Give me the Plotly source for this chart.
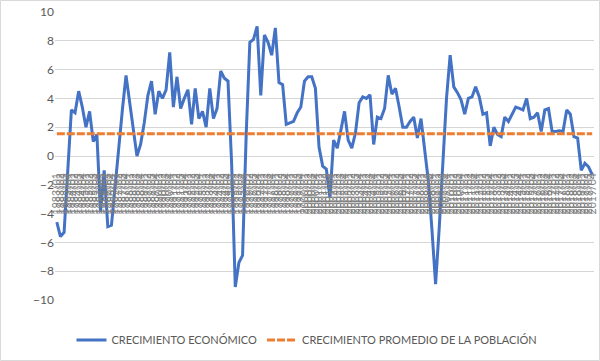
import plotly.graph_objects as go

years = list(range(1983, 2020))
quarters = ["01", "02", "03", "04"]
periods = [f"{y}/{q}" for y in years for q in quarters]

crecimiento_economico = [
    -4.6, -5.6, -5.3, -1.0, 3.2, 3.0, 4.5, 3.4, 2.0, 3.1,
    1.0, 1.5, -3.9, -1.0, -4.9, -4.8, -2.0, 0.8, 3.2, 5.6,
    3.6, 1.6, 0.0, 0.8, 2.3, 4.2, 5.2, 2.9, 4.5, 4.0,
    4.6, 7.2, 3.4, 5.5, 3.3, 4.0, 4.6, 2.2, 4.7, 2.6,
    3.1, 2.0, 4.7, 2.6, 3.3, 5.9, 5.4, 5.2, -0.5, -9.1,
    -7.4, -6.9, 1.5, 7.9, 8.1, 9.0, 4.2, 8.4, 7.9, 7.0,
    8.9, 5.1, 4.95, 2.2, 2.3, 2.4, 3.0, 3.4, 5.2, 5.5,
    5.5, 4.7, 0.6, -0.7, -0.9, -2.9, 1.1, 0.55, 1.8, 3.1,
    1.1, 0.55, 1.6, 3.7, 4.1, 4.0, 4.25, 0.8, 2.7, 2.6,
    3.3, 5.6, 4.3, 4.7, 3.4, 2.0, 2.0, 2.4, 2.7, 1.25,
    2.6, 0.6, -1.7, -5.1, -8.9, -5.0, -0.8, 4.0, 7.0, 4.8,
    4.4, 3.9, 2.9, 4.0, 4.1, 4.8, 4.1, 2.9, 3.0, 0.7,
    2.0, 1.5, 1.35, 2.7, 2.4, 2.9, 3.4, 3.3, 3.2, 4.0,
    2.6, 2.7, 3.0, 1.7, 3.2, 3.3, 1.7, 1.7, 1.75, 1.7,
    3.2, 2.9, 1.35, 1.25, -1.0, -0.5, -0.75, -1.3,
]
crecimiento_poblacion_promedio = 1.55
poblacion = [crecimiento_poblacion_promedio] * len(periods)
y_ticks = [-10, -8, -6, -4, -2, 0, 2, 4, 6, 8, 10]

FONT = "Lato"
GRAY = "#595959"
GRID = "#D6D6D6"

fig = go.Figure()
fig.add_trace(go.Scatter(
    x=periods, y=crecimiento_economico, mode="lines",
    name="CRECIMIENTO ECONÓMICO",
    line=dict(color="#4472C4", width=3),
    xaxis="x", yaxis="y",
))
fig.add_trace(go.Scatter(
    x=periods, y=poblacion, mode="lines",
    name="CRECIMIENTO PROMEDIO DE LA POBLACIÓN",
    line=dict(color="#ED7D31", width=3, dash="8px,2px"),
    xaxis="x2", yaxis="y",
))

L, R, T, B = 55, 6, 12, 61
W, H = 600, 361
pw, ph = W - L - R, H - T - B
xr = [-0.5, len(periods) - 0.5]

fig.update_layout(
    width=W, height=H,
    margin=dict(l=L, r=R, t=T, b=B, autoexpand=False),
    paper_bgcolor="white", plot_bgcolor="white",
    font=dict(family=FONT, color=GRAY),
    showlegend=True,
    legend=dict(
        orientation="h", x=(307 - L) / pw, xanchor="center",
        y=(H - B - 340) / ph, yanchor="middle",
        font=dict(size=11, color=GRAY, family=FONT),
        itemwidth=30, bgcolor="rgba(0,0,0,0)",
    ),
    xaxis=dict(
        type="category", range=xr,
        categoryorder="array", categoryarray=periods,
        showgrid=False, showline=False, zeroline=False, ticks="",
        showticklabels=False, automargin=False,
    ),
    xaxis2=dict(
        type="category", range=xr, overlaying="x",
        categoryorder="array", categoryarray=periods,
        anchor="free", position=0.5, side="bottom",
        showgrid=False, showline=False, zeroline=False, ticks="",
        tickmode="array", tickvals=periods, ticktext=periods,
        tickangle=-90, tickfont=dict(size=10.5, color="#7F7F7F", family=FONT),
        ticklabelstandoff=14, automargin=False,
    ),
    yaxis=dict(
        range=[-10, 10], tickmode="array", tickvals=y_ticks,
        showgrid=True, gridcolor=GRID, gridwidth=1,
        zeroline=True, zerolinecolor=GRID, zerolinewidth=1,
        showline=False, ticks="",
        tickfont=dict(size=12, color=GRAY, family=FONT),
        automargin=False,
    ),
)

fig.add_shape(
    type="rect", xref="paper", yref="paper",
    x0=(0.5 - L) / pw, x1=(W - 0.5 - L) / pw,
    y0=(H - B - (H - 0.5)) / ph, y1=(H - B - 0.5) / ph,
    line=dict(color="#D9D9D9", width=1), fillcolor="rgba(0,0,0,0)",
    layer="above",
)

fig.write_html(
    "out.html",
    config={"displayModeBar": False},
    post_script="document.body.style.margin='0';document.body.style.overflow='hidden';",
)
